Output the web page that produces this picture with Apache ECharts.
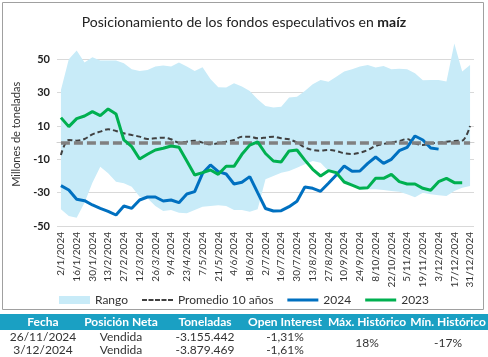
<!DOCTYPE html>
<html><head><meta charset="utf-8">
<script src="https://cdn.jsdelivr.net/npm/echarts@6/dist/echarts.min.js"></script>
<style>html,body{margin:0;padding:0;background:#fff}#c{width:488px;height:357px}</style>
</head><body><div id="c"></div>
<script>
const categories = ['2/1/2024','9/1/2024','16/1/2024','23/1/2024','30/1/2024','6/2/2024','13/2/2024','20/2/2024','27/2/2024','5/3/2024','12/3/2024','19/3/2024','26/3/2024','2/4/2024','9/4/2024','16/4/2024','23/4/2024','30/4/2024','7/5/2024','14/5/2024','21/5/2024','28/5/2024','4/6/2024','11/6/2024','18/6/2024','25/6/2024','2/7/2024','9/7/2024','16/7/2024','23/7/2024','30/7/2024','6/8/2024','13/8/2024','20/8/2024','27/8/2024','3/9/2024','10/9/2024','17/9/2024','24/9/2024','1/10/2024','8/10/2024','15/10/2024','22/10/2024','29/10/2024','5/11/2024','12/11/2024','19/11/2024','26/11/2024','3/12/2024','10/12/2024','17/12/2024','24/12/2024','31/12/2024'];
const rangoLow = [-40,-44,-45,-36,-24,-14.4,-18.4,-23.4,-24.4,-26.4,-32.4,-33.4,-38,-41,-40.4,-42,-42.4,-40.4,-38.4,-38,-37.6,-38,-40.4,-40.4,-41.4,-40,-22,-20,-18,-17,-15,-13,-11,-12,-17,-20,-24,-26,-28,-28,-28,-28.4,-29,-29.4,-31,-32.8,-30,-31,-31.5,-32,-29,-27,-26];
const rangoHigh = [31.6,50,55.2,48,51.2,49.2,49.2,49.2,47.6,44,43,43.6,45.6,46.2,45.6,48,45.6,43,45.2,38.2,33.2,33,35.6,33.6,31,26,22,21,21.5,27,27.5,31,35,37.6,36.5,39.5,42.6,44,45.6,46.6,45,46,44,44.3,44,41.6,37.4,37.6,37.6,36.6,59.4,42.6,46.6];
const promedio10 = [-7.4,1.6,1.2,2.2,5,6.6,8,7,5.6,4.6,3.6,2.2,2.6,3,2,0,0.6,1.2,0,-1,-0.4,0.6,1.6,3.6,3.6,2.6,3,3.6,2.6,2,0,-2.8,-4.4,-4.8,-4.4,-5,-6.4,-6.8,-6,-4.4,-2,-0.8,0,1,2.2,-0.4,-1.4,-0.4,0,0.6,1,1.2,10];
const serie2024 = [-25.8,-28.4,-34,-34.8,-37.4,-39.4,-41.2,-43.4,-38,-39.4,-34.4,-32.6,-32.6,-35,-34.4,-36,-30.8,-29.4,-18.4,-13.4,-17.4,-18.8,-24.8,-23.8,-20.4,-30,-39.5,-41,-40.8,-38.4,-35.2,-26.6,-27.4,-29.2,-24.4,-19.4,-14,-17.2,-17,-12.4,-8.6,-12.4,-10,-4.8,-2.8,4,1.6,-3.2,-3.9];
const serie2023 = [15,9.6,14.4,16,18.6,16.2,20.2,17.2,1.6,-2.4,-9.8,-7,-4.4,-3.4,-2,-2.8,-11,-19.4,-18,-16.4,-19,-14.2,-14.2,-7,-1.5,0.5,-6.5,-11,-11.6,-5,-4.4,-10.5,-16,-20,-16.8,-18,-23.6,-25.5,-27.4,-27,-21.4,-21.4,-19,-23.4,-24.8,-24.8,-27.4,-28.6,-23.4,-21.4,-24,-24];
const yTickValues = [-50,-30,-10,10,30,50];
const tableHeaders = ['Fecha','Posición Neta','Toneladas','Open Interest','Máx. Histórico','Mín. Histórico'];
const tableRows = [['26/11/2024','Vendida','-3.155.442','-1,31%'],['3/12/2024','Vendida','-3.879.469','-1,61%']];
const maxHistorico = '18%';
const minHistorico = '-17%';

const FONT = 'Lato, "Liberation Sans", sans-serif';
const colX = [43, 121, 205, 285, 367, 448];
const chart = echarts.init(document.getElementById('c'));

const graphics = [
  {type:'rect', shape:{x:2.5,y:2.5,width:481,height:307}, style:{fill:'none', stroke:'#a0a0a0', lineWidth:1}, z:-10},
  {type:'rect', shape:{x:0,y:314,width:488,height:16}, style:{fill:'#1aa0c3'}, z:5}
];
tableHeaders.forEach((h,i)=>graphics.push({type:'text', x:colX[i], y:322, z:6,
  style:{text:h, fill:'#fff', font:'bold 12px '+FONT, textAlign:'center', textVerticalAlign:'middle'}}));
tableRows.forEach((r,ri)=>r.forEach((t,ci)=>graphics.push({type:'text', x:colX[ci], y:337+ri*13, z:6,
  style:{text:t, fill:'#333', font:'12px '+FONT, textAlign:'center', textVerticalAlign:'middle'}})));
graphics.push({type:'text', x:colX[4], y:343, z:6, style:{text:maxHistorico, fill:'#333', font:'12px '+FONT, textAlign:'center', textVerticalAlign:'middle'}});
graphics.push({type:'text', x:colX[5], y:343, z:6, style:{text:minHistorico, fill:'#333', font:'12px '+FONT, textAlign:'center', textVerticalAlign:'middle'}});

const solidIcon = 'path://M0,0h31v3h-31z';
const dashIcon = 'path://M0,0h5v2h-5zM6.5,0h5v2h-5zM13,0h5v2h-5zM19.5,0h5v2h-5zM26,0h5v2h-5z';
const last = serie2024.length - 1;
chart.setOption({
  animation:false,
  textStyle:{fontFamily:FONT},
  title:{
    text:'{a|Posicionamiento de los fondos especulativos en }{b|maíz}',
    left:'center', top:10,
    textStyle:{fontWeight:'normal', rich:{a:{fontSize:14, fontWeight:'normal', color:'#222', fontFamily:FONT}, b:{fontSize:14, fontWeight:'bold', color:'#222', fontFamily:FONT}}}
  },
  grid:{left:57, right:14, top:42.6, bottom:131, containLabel:false},
  legend:{
    top:289, left:'center', itemWidth:31, itemHeight:8, itemGap:14, symbolKeepAspect:true,
    textStyle:{fontSize:12, color:'#333'},
    data:[{name:'Rango', icon:'rect'}, {name:'Promedio 10 años', icon:dashIcon}, {name:'2024', icon:solidIcon}, {name:'2023', icon:solidIcon}]
  },
  xAxis:{
    type:'category', data:categories, boundaryGap:true,
    axisTick:{show:false},
    axisLine:{lineStyle:{color:'#d0d0d0'}},
    axisLabel:{interval:1, rotate:90, fontSize:10, color:'#333', margin:6}
  },
  yAxis:{
    type:'value', min:-50, max:60, interval:20,
    name:'Millones de toneladas', nameLocation:'middle', nameGap:30,
    nameTextStyle:{fontSize:11, color:'#333'},
    axisLabel:{fontSize:11, fontWeight:'bold', color:'#222', margin:7,
      formatter:v=> yTickValues.indexOf(v) >= 0 ? String(v) : ''},
    axisLine:{show:false}, axisTick:{show:false},
    splitLine:{lineStyle:{color:['#d9d9d9','#d9d9d9','#d9d9d9','#d9d9d9','#d9d9d9','#d9d9d9','rgba(0,0,0,0)']}}
  },
  series:[
    {name:'rangoBase', type:'line', data:rangoLow, stack:'r', stackStrategy:'all', symbol:'none',
      lineStyle:{width:0, opacity:0}, silent:true, z:1},
    {name:'Rango', type:'line', data:rangoHigh.map((v,i)=>+(v-rangoLow[i]).toFixed(2)), stack:'r', stackStrategy:'all', symbol:'none',
      lineStyle:{width:0, opacity:0}, itemStyle:{color:'#c8ebf8'}, areaStyle:{color:'#c8ebf8', opacity:1}, z:1,
      markLine:{silent:true, symbol:'none', label:{show:false},
        lineStyle:{color:'#808080', width:3.5, type:[9,4]},
        data:[[{coord:[0,0]},{coord:[categories.length-1,0]}]]}},
    {name:'Promedio 10 años', type:'line', data:promedio10, symbol:'none', smooth:0.35,
      lineStyle:{color:'#404040', width:2, type:[5,3]}, itemStyle:{color:'#404040'}, z:3},
    {name:'2024', type:'line', symbol:'none', z:4,
      data:serie2024.map((v,i)=> i===last ? {value:v, label:{show:true, position:'right', distance:9, fontSize:12, color:'#222',
        formatter:p=>String(p.value).replace('.',',')}} : v),
      lineStyle:{color:'#0070c0', width:3}, itemStyle:{color:'#0070c0'}},
    {name:'2023', type:'line', data:serie2023, symbol:'none', z:5,
      lineStyle:{color:'#00b050', width:3}, itemStyle:{color:'#00b050'}}
  ],
  graphic:graphics
});
</script></body></html>
